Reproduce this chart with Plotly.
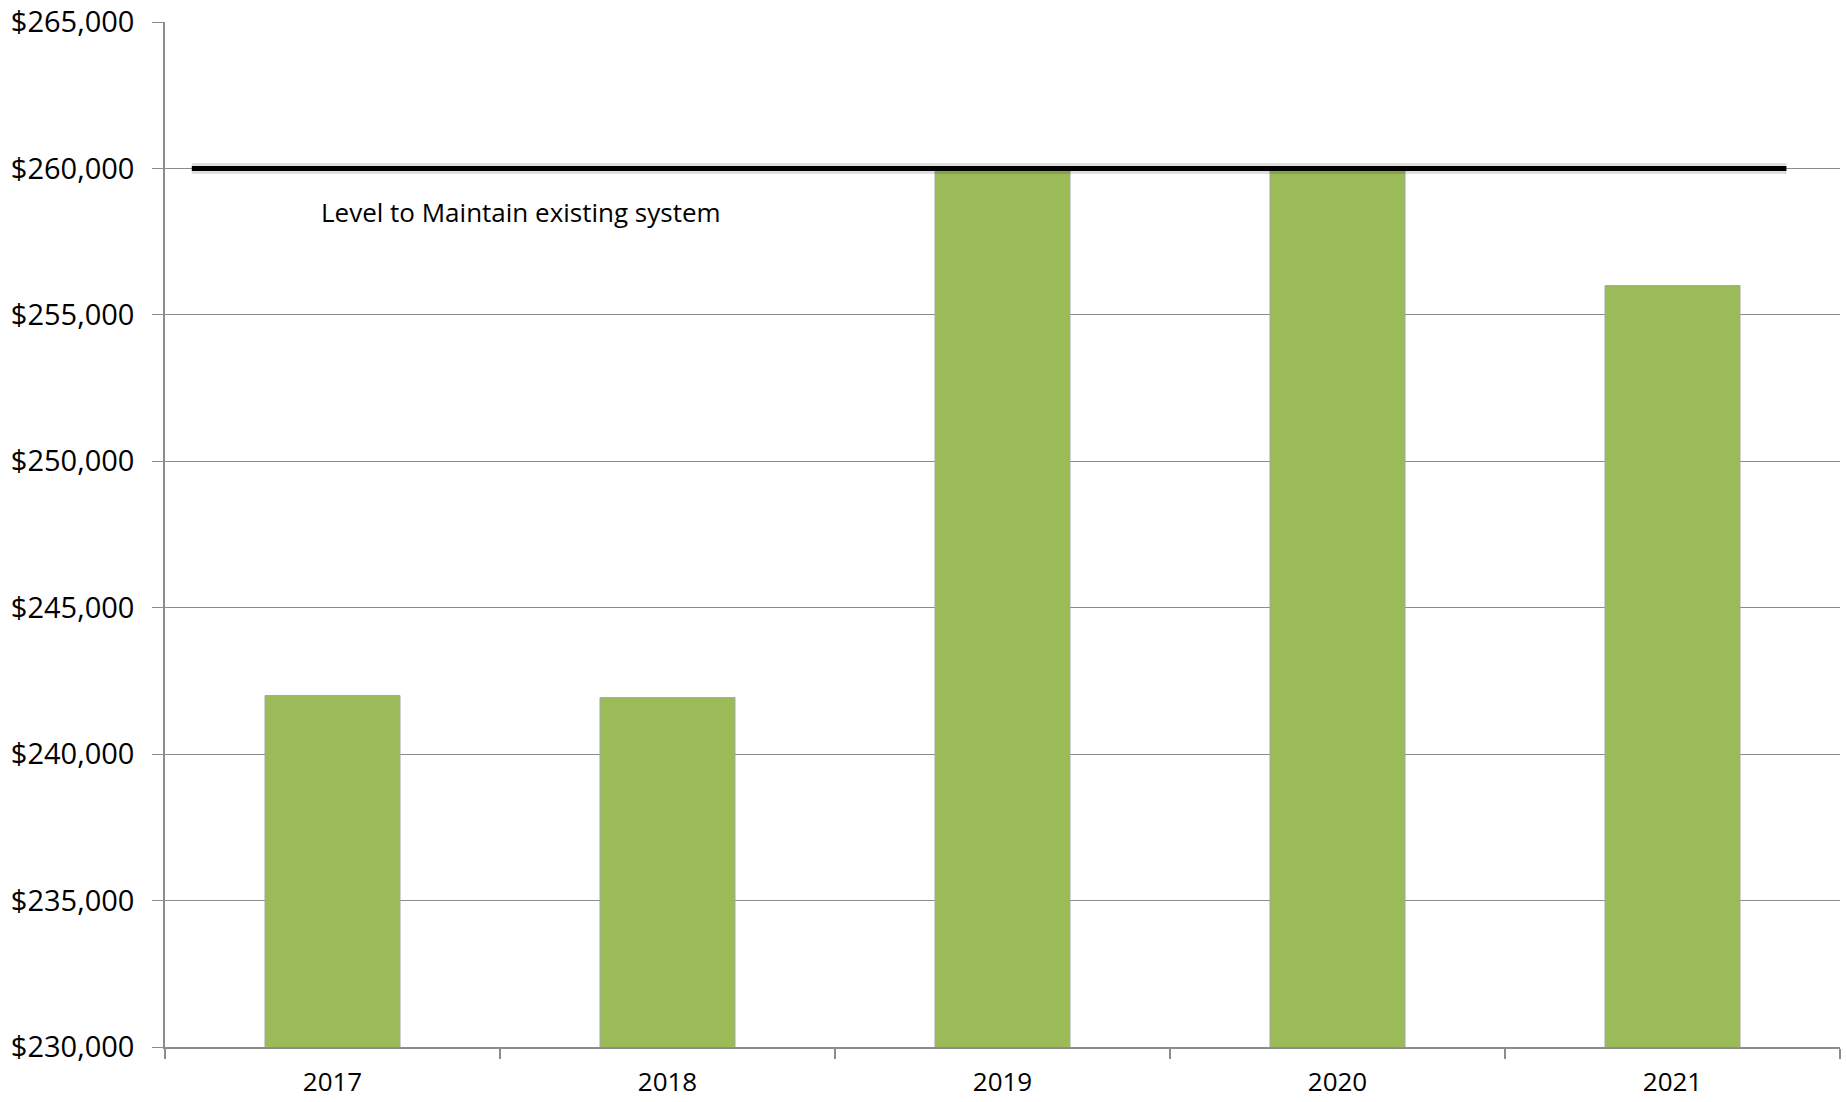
import plotly.graph_objects as go

years = ["2017", "2018", "2019", "2020", "2021"]
values = [242000, 241930, 260000, 260000, 256000]
level_value = [260000, 260000]
level_x = [-0.42, 4.34]
level_label = "Level to Maintain existing system"
y_ticks = [230000, 235000, 240000, 245000, 250000, 255000, 260000, 265000]
y_tick_text = ["$230,000", "$235,000", "$240,000", "$245,000", "$250,000", "$255,000", "$260,000", "$265,000"]

FONT = "Open Sans"
GRID = "#8c8c8c"

fig = go.Figure()
fig.add_trace(go.Bar(
    x=years, y=values, base=0,
    marker=dict(color="#9BBB59", line=dict(color="#a0a8a0", width=1)),
    width=0.403, showlegend=False, hoverinfo="x+y",
))
# soft shadow under the level line
fig.add_trace(go.Scatter(
    x=level_x, y=level_value, xaxis="x2", mode="lines",
    line=dict(color="rgba(0,0,0,0.13)", width=11), showlegend=False, hoverinfo="skip",
))
fig.add_trace(go.Scatter(
    x=level_x, y=level_value, xaxis="x2", mode="lines",
    line=dict(color="#000000", width=5), showlegend=False,
))

fig.add_annotation(
    text=level_label, xref="paper", yref="y", x=0.092, y=258500,
    xanchor="left", yanchor="middle", showarrow=False,
    font=dict(family=FONT, size=26, color="#000000"),
)

fig.update_layout(
    width=1846, height=1102,
    margin=dict(l=165, r=6, t=22, b=55),
    paper_bgcolor="white", plot_bgcolor="white",
    font=dict(family=FONT, size=29, color="#000000"),
    bargap=0.6,
    xaxis=dict(
        type="category", showgrid=False, showline=True, linecolor=GRID, linewidth=1.5,
        ticks="outside", tickson="boundaries", ticklen=10, tickcolor=GRID, tickwidth=1.5,
        tickfont=dict(family=FONT, size=26), range=[-0.5, 4.5],
        automargin=False, ticklabelstandoff=11, ticklabeloverflow="allow",
    ),
    xaxis2=dict(overlaying="x", range=[-0.5, 4.5], visible=False, showgrid=False),
    yaxis=dict(
        range=[230000, 265000], tickvals=y_ticks, ticktext=y_tick_text,
        showgrid=True, gridcolor=GRID, gridwidth=1.2,
        showline=True, linecolor=GRID, linewidth=1.5,
        ticks="outside", ticklen=11, tickcolor=GRID, tickwidth=1.2,
        tickfont=dict(family=FONT, size=29), zeroline=False,
        automargin=False, ticklabelstandoff=12, ticklabeloverflow="allow",
    ),
)

fig.write_html(
    "out.html",
    config={"displayModeBar": False},
    post_script="document.body.style.margin='0';document.body.style.overflow='hidden';",
)
